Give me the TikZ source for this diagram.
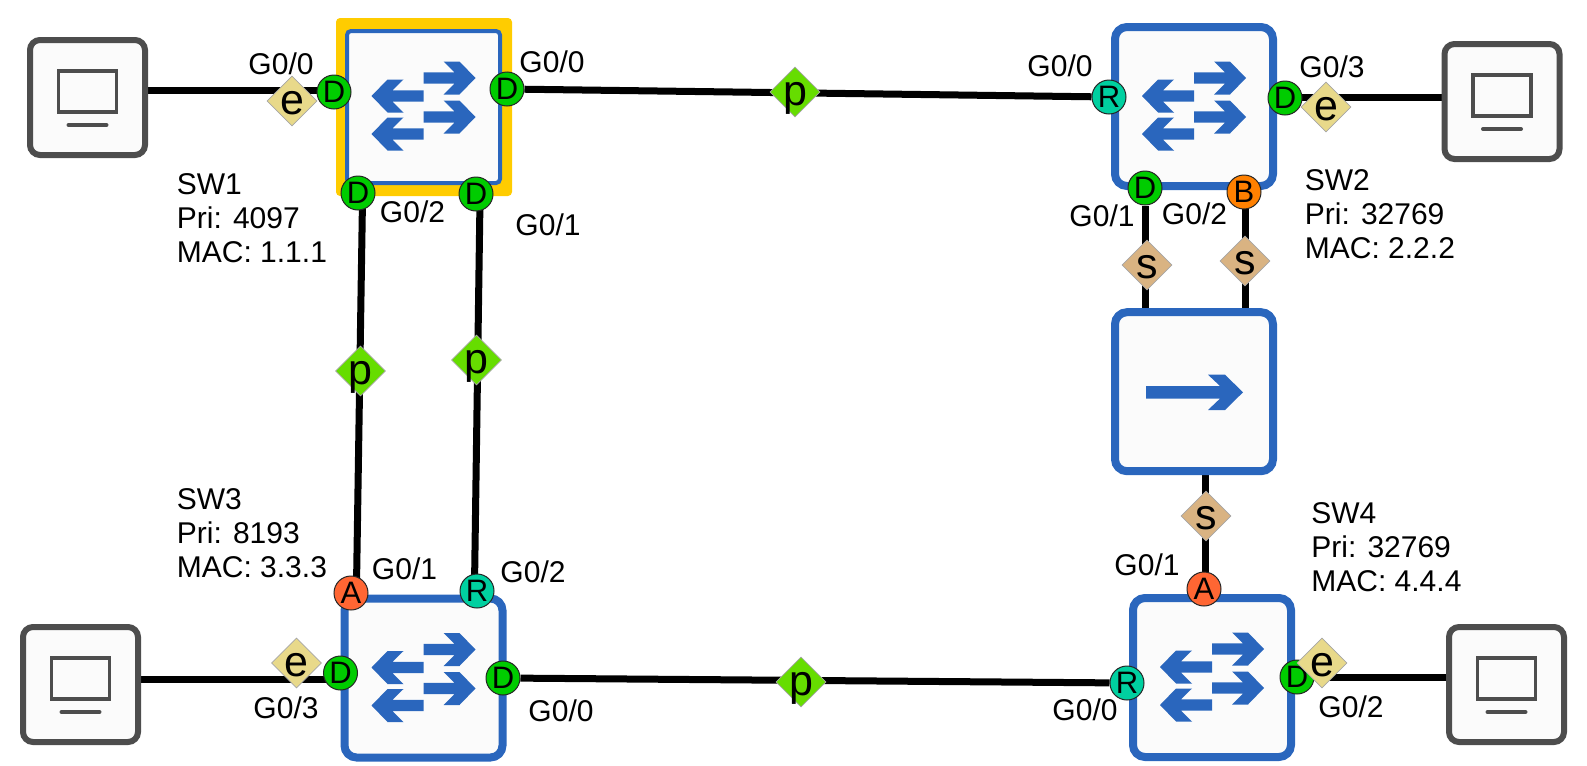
\documentclass[tikz,border=0pt]{standalone}
\usepackage{fontspec}
\setmainfont{Liberation Sans}
\usetikzlibrary{shapes.geometric,backgrounds}

\definecolor{swblue}{RGB}{42,102,189}
\definecolor{pcgray}{RGB}{77,77,77}
\definecolor{boxfill}{RGB}{251,251,251}
\definecolor{rootyellow}{RGB}{255,204,0}
\definecolor{desgreen}{RGB}{0,204,0}
\definecolor{rootteal}{RGB}{0,208,160}
\definecolor{altred}{RGB}{255,102,51}
\definecolor{backorange}{RGB}{255,128,0}
\definecolor{edgeyellow}{RGB}{232,217,138}
\definecolor{syncbrown}{RGB}{217,179,130}
\definecolor{pgreen}{RGB}{102,221,0}

\newcommand{\rolechar}[1]{\makebox[0pt]{\raisebox{-6.5pt}[0pt][0pt]{#1}}}

\tikzset{
    swbox/.style={draw=swblue, fill=boxfill, line width=4pt, rounded corners=6pt, minimum width=79pt, minimum height=79.5pt, inner sep=0pt},
    rootbox/.style={draw=swblue, fill=boxfill, line width=2pt, rounded corners=2pt, minimum width=76.5pt, minimum height=76pt, inner sep=0pt},
    pcbox/.style={draw=pcgray, fill=boxfill, line width=3pt, rounded corners=5pt, minimum size=57.5pt, inner sep=0pt},
    port/.style={circle, draw=black!85, line width=0.5pt, minimum size=17pt, inner sep=0pt, font=\fontsize{15.5}{17}\selectfont},
    role/.style={diamond, draw=gray!70, line width=0.4pt, minimum size=25pt, inner sep=0pt, font=\fontsize{21.5}{24}\selectfont},
    lbl/.style={inner sep=0pt, font=\fontsize{15}{17}\selectfont},
    info/.style={lbl, anchor=west, align=left},
    link/.style={draw=black, line width=3.5pt},
    swicon/.pic={
        \fill[swblue] (0,-34.2) -- (31,-34.2) -- (20,-45) -- (36,-45) -- (52,-28.5) -- (36,-12) -- (20,-12) -- (31,-22.8) -- (0,-22.8) -- cycle;
        \fill[swblue] (0,4.8) -- (31,4.8) -- (20,-6) -- (36,-6) -- (52,10.5) -- (36,27) -- (20,27) -- (31,16.2) -- (0,16.2) -- cycle;
        \fill[swblue] (0,-16.2) -- (-31,-16.2) -- (-20,-27) -- (-36,-27) -- (-52,-10.5) -- (-36,6) -- (-20,6) -- (-31,-4.8) -- (0,-4.8) -- cycle;
        \fill[swblue] (0,21.8) -- (-31,21.8) -- (-20,11) -- (-36,11) -- (-52,27.5) -- (-36,44) -- (-20,44) -- (-31,33.2) -- (0,33.2) -- cycle;
    },
    pcicon/.pic={
        \draw[pcgray, line width=1.8pt] (-29,-26.5) rectangle (29,14.5);
        \draw[pcgray, line width=2pt, line cap=round] (-19,27.5) -- (19,27.5);
    }
}

\begin{document}
\begin{tikzpicture}[x=0.5pt, y=-0.5pt]
    \useasboundingbox (0,0) rectangle (1587,766);

    % SW1
    \fill[rootyellow, rounded corners=2pt] (336,18) rectangle (512,196);
    \node[rootbox] (sw1) at (423.5,107) {};
    \pic at (423.5,106.5) {swicon};
    \node[port, fill=desgreen] (d1w) at (334,92) {D};
    \node[port, fill=desgreen] (d1e) at (507,89) {D};
    \node[port, fill=desgreen] (d1s) at (358,193) {D};
    \node[port, fill=desgreen] (d1r) at (476,194) {D};
    \node[role, fill=edgeyellow] (e1) at (292,101) {\rolechar{e}};

    % SW2
    \node[swbox] (sw2) at (1194,106.5) {};
    \pic at (1194,106.5) {swicon};
    \node[port, fill=rootteal] (r2w) at (1109,97) {R};
    \node[port, fill=desgreen] (d2e) at (1285,98) {D};
    \node[port, fill=desgreen] (d2s) at (1145,188) {D};
    \node[port, fill=backorange] (b2s) at (1244,192) {B};
    \node[role, fill=edgeyellow] (e2) at (1326,107) {\rolechar{e}};

    % SW3
    \node[swbox] (sw3) at (423.5,678) {};
    \pic at (423.5,678) {swicon};
    \node[port, fill=altred] (a3n) at (351,593) {A};
    \node[port, fill=rootteal] (r3n) at (477,591) {R};
    \node[port, fill=desgreen] (d3w) at (340.5,673) {D};
    \node[port, fill=desgreen] (d3e) at (503,678) {D};
    \node[role, fill=edgeyellow] (e3) at (296.5,663) {\rolechar{e}};

    % SW4
    \node[swbox] (sw4) at (1212,677.5) {};
    \pic at (1212,677.5) {swicon};
    \node[port, fill=altred] (a4n) at (1204,589) {A};
    \node[port, fill=rootteal] (r4w) at (1127,683) {R};
    \node[port, fill=desgreen] (d4e) at (1297,677) {D};
    \node[role, fill=edgeyellow] (e4) at (1322,663) {\rolechar{e}};

    % forwarding box between SW2 and SW4
    \node[swbox] (fwd) at (1194,391.7) {};
    \fill[swblue] (1146,386) -- (1220,386) -- (1208,374.7) -- (1225,374.7) -- (1243,392.3) -- (1225,410) -- (1208,410) -- (1220,398.6) -- (1146,398.6) -- cycle;

    % hosts
    \node[pcbox] (pc1) at (87.5,97.5) {};
    \pic at (87.5,97.5) {pcicon};
    \node[pcbox] (pc2) at (1502,101.5) {};
    \pic at (1502,101.5) {pcicon};
    \node[pcbox] (pc3) at (80.5,684.5) {};
    \pic at (80.5,684.5) {pcicon};
    \node[pcbox] (pc4) at (1506.5,684.5) {};
    \pic at (1506.5,684.5) {pcicon};

    % port roles on the links
    \node[role, fill=pgreen] (p1) at (795,92) {\rolechar{p}};
    \node[role, fill=pgreen] (p2) at (360.5,371) {\rolechar{p}};
    \node[role, fill=pgreen] (p3) at (476.5,360) {\rolechar{p}};
    \node[role, fill=pgreen] (p4) at (801,682) {\rolechar{p}};
    \node[role, fill=syncbrown] (s1) at (1147,265) {\rolechar{s}};
    \node[role, fill=syncbrown] (s2) at (1245,261) {\rolechar{s}};
    \node[role, fill=syncbrown] (s3) at (1206,516) {\rolechar{s}};

    % links
    \coordinate (d1link) at (334,90.5);
    \coordinate (d3link) at (340.5,679);
    \coordinate (d1sdrop) at (362.5,200);
    \coordinate (a3rise) at (356.5,585);
    \coordinate (d1rdrop) at (480,200);
    \coordinate (r3rise) at (474.5,585);
    \coordinate (b2drop) at (1245.5,192);
    \coordinate (a4rise) at (1205.5,589);
    \begin{pgfonlayer}{background}
        \draw[link] (pc1.east |- d1link) -- (d1link);
        \draw[link] (d1e) -- (r2w);
        \draw[link] (d2e |- r2w) -- (pc2.west |- r2w);
        \draw[link] (d1sdrop) -- (a3rise);
        \draw[link] (d1rdrop) -- (r3rise);
        \draw[link] (d2s) -- (d2s |- fwd.north);
        \draw[link] (b2drop) -- (b2drop |- fwd.north);
        \draw[link] (a4rise) -- (a4rise |- fwd.south);
        \draw[link] (pc3.east |- d3link) -- (d3link);
        \draw[link] (d3e) -- (r4w);
        \draw[link] (d4e) -- (pc4.west |- d4e);
    \end{pgfonlayer}

    % interface names
    \node[lbl] (g1a) at (281,64) {G0/0};
    \node[lbl] (g1b) at (552,62) {G0/0};
    \node[lbl] (g1c) at (412.5,212) {G0/2};
    \node[lbl] (g1d) at (548,225) {G0/1};
    \node[lbl] (g2a) at (1060,66) {G0/0};
    \node[lbl] (g2b) at (1332,67) {G0/3};
    \node[lbl] (g2c) at (1102,216) {G0/1};
    \node[lbl] (g2d) at (1194.5,214) {G0/2};
    \node[lbl] (g3a) at (404.5,569) {G0/1};
    \node[lbl] (g3b) at (533,572) {G0/2};
    \node[lbl] (g3c) at (286,708) {G0/3};
    \node[lbl] (g3d) at (561,711) {G0/0};
    \node[lbl] (g4a) at (1147,565) {G0/1};
    \node[lbl] (g4b) at (1085,710) {G0/0};
    \node[lbl] (g4c) at (1351,707) {G0/2};

    % bridge info
    \node[info] (info1) at (176.5,218) {SW1\\Pri: 4097\\MAC: 1.1.1};
    \node[info] (info2) at (1304.5,214) {SW2\\Pri: 32769\\MAC: 2.2.2};
    \node[info] (info3) at (176.5,533) {SW3\\Pri: 8193\\MAC: 3.3.3};
    \node[info] (info4) at (1311,547) {SW4\\Pri: 32769\\MAC: 4.4.4};
\end{tikzpicture}
\end{document}
